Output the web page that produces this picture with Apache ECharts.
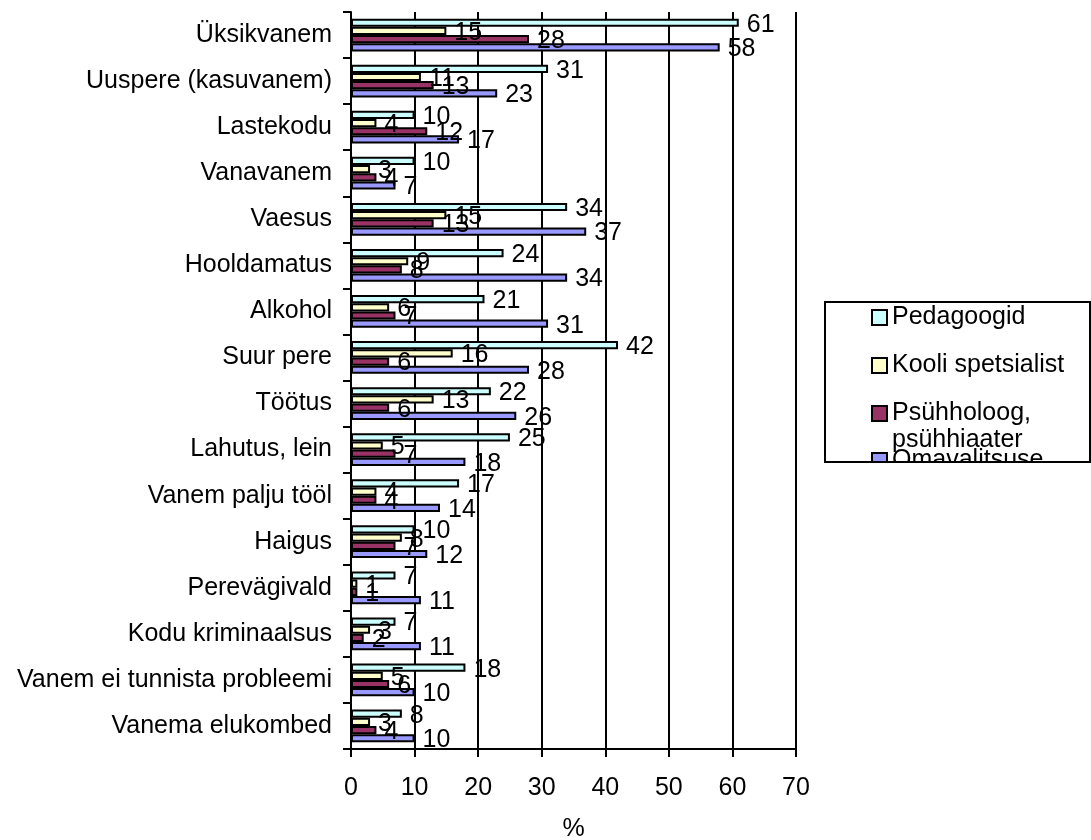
<!DOCTYPE html>
<html>
<head>
<meta charset="utf-8">
<title>chart</title>
<script src="https://cdn.jsdelivr.net/npm/echarts@6/dist/echarts.min.js"></script>
<style>
	html, body { margin: 0; padding: 0; background: #fff; }
	#chart { width: 1091px; height: 840px; }
</style>
</head>
<body>
<div id="chart"></div>
<script>
	const categories = ['Üksikvanem', 'Uuspere (kasuvanem)', 'Lastekodu', 'Vanavanem', 'Vaesus', 'Hooldamatus', 'Alkohol', 'Suur pere', 'Töötus', 'Lahutus, lein', 'Vanem palju tööl', 'Haigus', 'Perevägivald', 'Kodu kriminaalsus', 'Vanem ei tunnista probleemi', 'Vanema elukombed'];
	const seriesNames = ['Pedagoogid', 'Kooli spetsialist', 'Psühholoog,\npsühhiaater', 'Omavalitsuse'];
	const pedagoogid = [61, 31, 10, 10, 34, 24, 21, 42, 22, 25, 17, 10, 7, 7, 18, 8];
	const kooliSpets = [15, 11, 4, 3, 15, 9, 6, 16, 13, 5, 4, 8, 1, 3, 5, 3];
	const psyhholoog = [28, 13, 12, 4, 13, 8, 7, 6, 6, 7, 4, 7, 1, 2, 6, 4];
	const omavalitsus = [58, 23, 17, 7, 37, 34, 31, 28, 26, 18, 14, 12, 11, 11, 10, 10];
	const xTicks = [0, 10, 20, 30, 40, 50, 60, 70];

	const colors = ['#CCFFFF', '#FFFFCC', '#993366', '#9999FF'];
	const values = [pedagoogid, kooliSpets, psyhholoog, omavalitsus];
	const font = "'Liberation Sans', Arial, sans-serif";
	const fs = 25;

	// legend: one component per item so they can sit where excel put them
	const legendTops = [305, 353, 373, 448];
	const legends = seriesNames.map(function (name, i) {
		const lg = {
			data: [name],
			orient: 'vertical',
			left: 871,
			top: legendTops[i],
			padding: 0,
			itemWidth: 15,
			itemHeight: 15,
			icon: 'rect',
			textStyle: { color: '#000', fontSize: fs, fontFamily: font }
		};
		if (i === 2) {
			// blank first line keeps the icon beside "Psühholoog,"
			lg.textStyle.lineHeight = 27;
			lg.formatter = function (n) { return ' \n' + n; };
		}
		return lg;
	});

	const chart = echarts.init(document.getElementById('chart'));
	chart.setOption({
		animation: false,
		backgroundColor: '#fff',
		textStyle: { fontFamily: font },
		grid: { left: 351, right: 295, top: 12, bottom: 91, containLabel: false, outerBoundsMode: 'none' },
		legend: legends,
		xAxis: {
			type: 'value',
			min: xTicks[0],
			max: xTicks[xTicks.length - 1],
			interval: 10,
			name: '%',
			nameLocation: 'middle',
			nameGap: 68,
			nameTextStyle: { color: '#000', fontSize: fs, fontFamily: font },
			axisLine: { show: true, lineStyle: { color: '#000', width: 2 } },
			axisTick: { show: true, length: 8, lineStyle: { color: '#000', width: 2 } },
			axisLabel: { color: '#000', fontSize: fs, margin: 27, fontFamily: font },
			splitLine: { show: true, lineStyle: { color: '#000', width: 2 } }
		},
		yAxis: {
			type: 'category',
			inverse: true,
			data: categories,
			axisLine: { show: true, lineStyle: { color: '#000', width: 2 } },
			axisTick: { show: true, length: 8, lineStyle: { color: '#000', width: 2 } },
			axisLabel: { color: '#000', fontSize: fs, margin: 19, fontFamily: font }
		},
		series: seriesNames.map(function (name, i) {
			return {
				name: name,
				type: 'bar',
				data: values[i],
				barGap: '0%',
				barCategoryGap: '29%',
				itemStyle: { color: colors[i], borderColor: '#000', borderWidth: 2 },
				label: {
					show: true,
					position: 'right',
					distance: 8,
					offset: [0, 2],
					color: '#000',
					fontSize: fs,
					fontFamily: font
				}
			};
		}),
		graphic: [
			{
				type: 'rect',
				z: 100,
				shape: { x: 823, y: 463, width: 268, height: 40 },
				style: { fill: '#fff' }
			},
			{
				type: 'rect',
				z: 101,
				shape: { x: 825, y: 302, width: 265, height: 160 },
				style: { fill: null, stroke: '#000', lineWidth: 2 }
			}
		]
	});
</script>
</body>
</html>
